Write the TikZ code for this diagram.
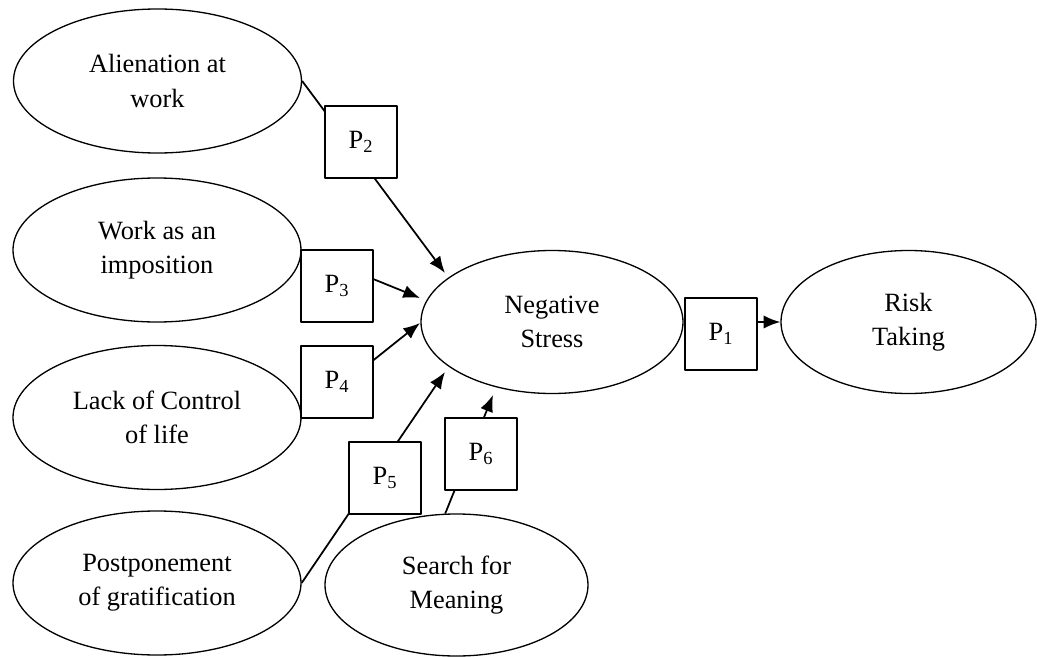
\documentclass[tikz,border=0pt]{standalone}
\usepackage{fontspec}
\setmainfont{Liberation Serif}
\usetikzlibrary{arrows.meta,shapes}

\begin{document}
\begin{tikzpicture}[>={Latex[length=9.5pt,width=7.5pt]},line join=bevel,
    factor/.style={draw,shape=ellipse,inner sep=0pt,line width=0.75pt,minimum width=5.76cm,minimum height=2.88cm,align=center,font=\fontsize{15}{19.5}\selectfont},
    pbox/.style={draw,fill=white,shape=rectangle,minimum size=1.44cm,inner sep=0pt,line width=1.1pt,font=\fontsize{15}{18}\selectfont},
    link/.style={line width=1pt}]
\useasboundingbox (0,0) rectangle (20.74,13.12);
\node[factor] (alien) at (3.15,11.50) {Alienation at\\work};
\node[factor] (work) at (3.14,8.12) {Work as an\\imposition};
\node[factor] (lack) at (3.14,4.77) {Lack of Control\\of life};
\node[factor] (postpone) at (3.14,1.46) {Postponement\\of gratification};
\node[factor,minimum width=5.26cm,minimum height=2.84cm] (search) at (9.13,1.42) {Search for\\Meaning};
\node[factor,minimum width=5.24cm,minimum height=2.86cm] (stress) at (11.04,6.68) {Negative\\Stress};
\node[factor,minimum width=5.10cm,minimum height=2.86cm] (risk) at (18.17,6.68) {Risk\\Taking};
% arrow tips stop short of the stress ellipse
\coordinate (t2) at (8.90,7.66);
\coordinate (t3) at (8.40,7.16);
\coordinate (t4) at (8.40,6.66);
\coordinate (t5) at (8.90,5.68);
\coordinate (t6) at (9.86,5.22);
\draw [link,->] (alien.east) -- (t2);
\draw [link,->] (work.east) -- (t3);
\draw [link,->] (lack.east) -- (t4);
\draw [link,->] (postpone.east) -- (t5);
\draw [link,->] (search.99) -- (t6);
\draw [link,->] (stress.east) -- (risk.west);
\node[pbox] (p2) at (7.22,10.28) {P\textsubscript{2}};
\node[pbox] (p3) at (6.74,7.40) {P\textsubscript{3}};
\node[pbox] (p4) at (6.74,5.48) {P\textsubscript{4}};
\node[pbox] (p5) at (7.70,3.56) {P\textsubscript{5}};
\node[pbox] (p6) at (9.62,4.04) {P\textsubscript{6}};
\node[pbox] (p1) at (14.42,6.44) {P\textsubscript{1}};
\end{tikzpicture}
\end{document}
